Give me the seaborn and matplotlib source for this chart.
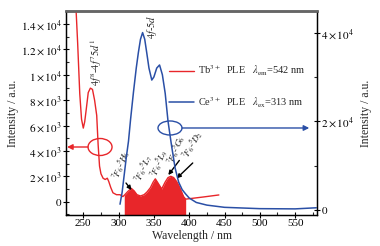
import matplotlib
matplotlib.use("Agg")
import matplotlib.pyplot as plt
import seaborn as sns
import numpy as np
import pandas as pd
from matplotlib.patches import Ellipse
from matplotlib.ticker import FixedLocator, MultipleLocator

# ---------------- data ----------------
tb_wl = [239, 242, 245, 247.5, 250, 252, 254, 257, 260, 263, 266, 269, 271, 273, 275, 278,
         281, 284, 286, 289, 292, 297, 302, 306, 308, 313, 318, 322, 326, 331, 336, 340,
         345, 349, 352, 356, 361, 366, 370, 374, 378, 382, 385, 389, 392, 395, 420, 442]
tb_val = [16000, 12500, 8500, 6500, 5800, 6300, 7200, 8600, 8950, 8850, 8000, 6800, 4500, 2800,
          2200, 1850, 1750, 1850, 1600, 1100, 700, 550, 550, 400, 500, 800, 1050, 850, 550, 450,
          550, 750, 1100, 1550, 1800, 1450, 1000, 1550, 1900, 2000, 1900, 1600, 1300, 800, 400,
          200, 370, 530]
fill_start, fill_end = 308, 395

ce_wl = [302, 305, 308, 311, 314, 317, 321, 325, 328, 331, 334, 337, 340, 343, 347, 350, 354,
         358, 362, 366, 370, 375, 380, 385, 390, 395, 400, 410, 425, 450, 500, 550, 580]
ce_val = [1300, 4000, 8000, 12000, 15500, 20500, 26500, 32000, 35500, 38500, 40000, 38500,
          35300, 32000, 29300, 30000, 32000, 32700, 30500, 26300, 20000, 14500, 9500, 6300,
          4600, 3600, 2700, 1700, 1100, 600, 300, 250, 500]

left_ticks = [0, 2000, 4000, 6000, 8000, 10000, 12000, 14000]
left_labels = [r"$0$", r"$2\times10^3$", r"$4\times10^3$", r"$6\times10^3$", r"$8\times10^3$",
               r"$1\times10^4$", r"$1.2\times10^4$", r"$1.4\times10^4$"]
right_ticks = [0, 20000, 40000]
right_labels = [r"$0$", r"$2\times10^4$", r"$4\times10^4$"]
x_ticks = [250, 300, 350, 400, 450, 500, 550]

RED = "#E8262A"
BLUE = "#2A4FA6"

# ---------------- style ----------------
sns.set_theme(style="ticks")
plt.rcParams["font.family"] = ["Liberation Serif", "DejaVu Serif"]
plt.rcParams["mathtext.fontset"] = "stix"

fig = plt.figure(figsize=(3.8, 2.46), dpi=100)
fig.patch.set_facecolor("white")
ax = fig.add_axes([66 / 380, 1 - 215 / 246, (317 - 66) / 380, (215 - 11) / 246])

tb = pd.DataFrame({"wl": tb_wl, "val": tb_val})
ce = pd.DataFrame({"wl": ce_wl, "val": ce_val})
seg = tb[(tb.wl >= fill_start) & (tb.wl <= fill_end)]

YL = (-1050, 15030)
ax.fill_between(seg.wl, seg.val, YL[0] - 2000, color=RED, lw=0, zorder=2)
sns.lineplot(data=tb, x="wl", y="val", ax=ax, color=RED, lw=1.0, estimator=None,
             label="Tb$^{3+}$  PLE   $\\lambda_{\\rm em}$=542 nm", legend=False, zorder=3)
ax.set_xlim(225.5, 581)
ax.set_ylim(*YL)

ax2 = ax.twinx()
sns.lineplot(data=ce, x="wl", y="val", ax=ax2, color=BLUE, lw=1.1, estimator=None,
             label="Ce$^{3+}$  PLE   $\\lambda_{\\rm ex}$=313 nm", legend=False)
ax2.set_ylim(-1130, 44870)

# ---------------- axes cosmetics ----------------
ax.set_xticks(x_ticks)
ax.xaxis.set_minor_locator(MultipleLocator(25))
ax.yaxis.set_major_locator(FixedLocator(left_ticks))
ax.set_yticklabels(left_labels)
ax.yaxis.set_minor_locator(MultipleLocator(1000))
ax2.yaxis.set_major_locator(FixedLocator(right_ticks))
ax2.set_yticklabels(right_labels)
ax2.yaxis.set_minor_locator(MultipleLocator(10000))

for a in (ax, ax2):
    a.tick_params(which="major", direction="inout", length=4, width=0.8, pad=1,
                  labelsize=8, colors="black")
    a.tick_params(which="minor", direction="in", length=2.5, width=0.8)
ax.tick_params(axis="x", which="both", bottom=True, top=False)
ax.tick_params(axis="y", which="both", left=True, right=False)
ax2.tick_params(axis="y", which="both", right=True, left=False)

for s in ["left", "bottom", "right"]:
    for a in (ax, ax2):
        a.spines[s].set_color("black")
        a.spines[s].set_linewidth(0.9)
for a in (ax, ax2):
    a.spines["top"].set_color("#666666")
    a.spines["top"].set_linewidth(1.8)

ax.set_xlabel("Wavelength / nm", fontsize=8.5, labelpad=1)
ax.set_ylabel("Intensity / a.u.", fontsize=8.5, labelpad=1)
ax2.set_ylabel("Intensity / a.u.", fontsize=8.5, labelpad=4)

# legend
h1, l1 = ax.get_legend_handles_labels()
h2, l2 = ax2.get_legend_handles_labels()
leg = ax2.legend(h1 + h2, l1 + l2, loc="upper left", bbox_to_anchor=(0.41, 0.74),
                 frameon=False, fontsize=7.5, handlelength=2.4, handletextpad=0.4,
                 labelspacing=1.6, borderpad=0, borderaxespad=0)

# annotations
ax.text(268, 11010, r"$4f^{8}$-$4f^{7}5d^{1}$", rotation=90, ha="center", va="center", fontsize=7.5)
ax.text(347.3, 13770, r"$4f$-$5d$", rotation=90, ha="center", va="center", fontsize=7.5)
trans = [(303.5, 2950, 68, r"$^7\!F_6$-$^5\!H_6$"), (336, 2650, 66, r"$^7\!F_6$-$^5\!L_7$"),
         (357, 3050, 68, r"$^7\!F_6$-$^5\!L_9$"), (381.5, 4070, 68, r"$^7\!F_6$-$^5\!G_6$"),
         (405.5, 4470, 60, r"$^7\!F_6$-$^5\!D_2$")]
for x, y, r, t in trans:
    ax.text(x, y, t, rotation=r, ha="center", va="center", fontsize=6.8, zorder=5)
ap = dict(arrowstyle="-|>", color="black", lw=1.0, mutation_scale=6, shrinkA=0, shrinkB=0)
ax.annotate("", xy=(318.3, 920), xytext=(310.5, 1470), arrowprops=ap, zorder=5)
ax.annotate("", xy=(370.4, 2100), xytext=(386, 3250), arrowprops=ap, zorder=5)
ax.annotate("", xy=(382.3, 1840), xytext=(405, 3050), arrowprops=ap, zorder=5)

# ellipses + arrows
ax.add_patch(Ellipse((273.7, 4310), 34, 1340, fill=False, ec=RED, lw=1.0, zorder=4))
ax.annotate("", xy=(227, 4310), xytext=(256.7, 4310),
            arrowprops=dict(arrowstyle="-|>", color=RED, lw=1.0, mutation_scale=8,
                            shrinkA=0, shrinkB=0))
ax2.add_patch(Ellipse((372.8, 18490), 34, 3160, fill=False, ec=BLUE, lw=1.0, zorder=4))
ax2.annotate("", xy=(570, 18490), xytext=(389.8, 18490),
             arrowprops=dict(arrowstyle="-|>", color=BLUE, lw=1.0, mutation_scale=8,
                             shrinkA=0, shrinkB=0))

fig.savefig("out.png", dpi=100, facecolor="white")
